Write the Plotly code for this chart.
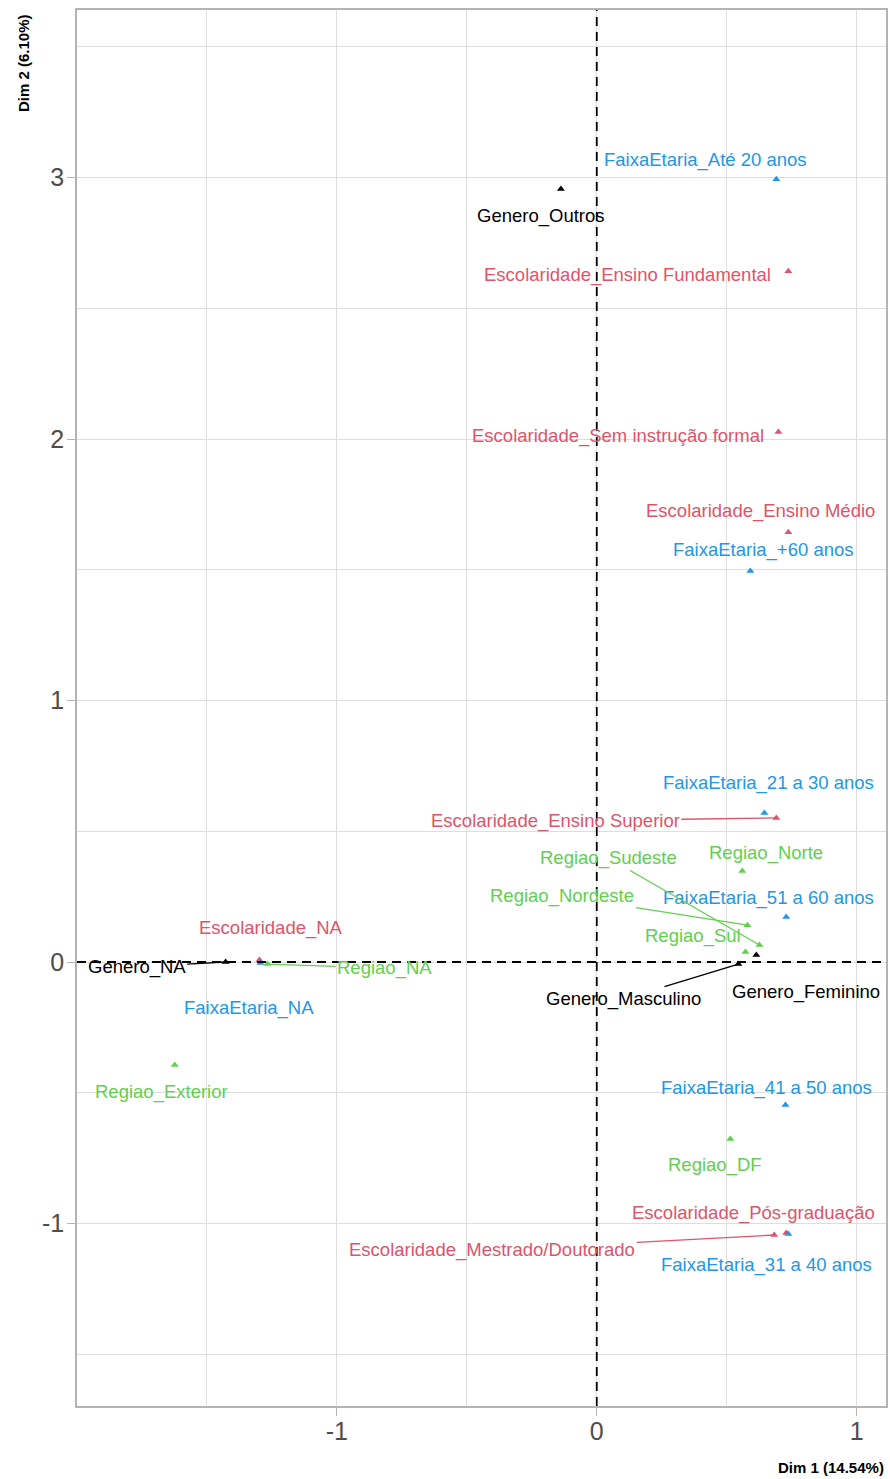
import plotly.graph_objects as go

# MCA variable categories: coordinates on Dim 1 / Dim 2
categories = [
    "FaixaEtaria_Até 20 anos", "Genero_Outros", "Escolaridade_Ensino Fundamental",
    "Escolaridade_Sem instrução formal", "Escolaridade_Ensino Médio", "FaixaEtaria_+60 anos",
    "FaixaEtaria_21 a 30 anos", "Escolaridade_Ensino Superior", "Regiao_Norte",
    "FaixaEtaria_51 a 60 anos", "Regiao_Sudeste", "Regiao_Nordeste",
    "Genero_Masculino", "Genero_Feminino", "Regiao_Sul",
    "Genero_NA", "Escolaridade_NA", "FaixaEtaria_NA", "Regiao_NA",
    "Regiao_Exterior", "FaixaEtaria_41 a 50 anos", "Regiao_DF",
    "Escolaridade_Pós-graduação", "Escolaridade_Mestrado/Doutorado", "FaixaEtaria_31 a 40 anos",
]
groups = [
    "FaixaEtaria", "Genero", "Escolaridade",
    "Escolaridade", "Escolaridade", "FaixaEtaria",
    "FaixaEtaria", "Escolaridade", "Regiao",
    "FaixaEtaria", "Regiao", "Regiao",
    "Genero", "Genero", "Regiao",
    "Genero", "Escolaridade", "FaixaEtaria", "Regiao",
    "Regiao", "FaixaEtaria", "Regiao",
    "Escolaridade", "Escolaridade", "FaixaEtaria",
]
dim1 = [
    0.691, -0.138, 0.737,
    0.699, 0.737, 0.591,
    0.645, 0.691, 0.560,
    0.729, 0.626, 0.580,
    0.545, 0.614, 0.572,
    -1.428, -1.298, -1.294, -1.267,
    -1.624, 0.726, 0.514,
    0.729, 0.683, 0.737,
]
dim2 = [
    2.994, 2.956, 2.642,
    2.027, 1.644, 1.495,
    0.570, 0.551, 0.348,
    0.172, 0.065, 0.141,
    -0.008, 0.027, 0.038,
    0.000, 0.008, -0.004, -0.008,
    -0.394, -0.547, -0.677,
    -1.036, -1.044, -1.040,
]

# repelled label placement (pixel offsets from each point) and connector flags
label_dx = [-71, -20, -161, -160, -28, 13, 4, -221, 24, -18, -151, -185, -115, 50, -52,
            -89, 12, -11, 117, -13, -19, -15, -33, -282, -22]
label_dy = [-19, 27, 4, 4, -21, -21, -30, 3, -18, -19, -87, -29, 35, 37, -16,
            5, -32, 45, 4, 27, -17, 26, -20, 15, 31]
connector = [False, False, False, False, False, False, False, True, False, False, True, True, True, False, False,
             True, False, False, True, False, False, False, False, True, False]

palette = {"Genero": "#000000", "Escolaridade": "#DF536B", "Regiao": "#61D04F", "FaixaEtaria": "#2297E6"}
group_order = ["Genero", "Escolaridade", "Regiao", "FaixaEtaria"]

x_ticks = [-1, 0, 1]
x_tick_text = ["-1", "0", "1"]
y_ticks = [-1, 0, 1, 2, 3]
y_tick_text = ["-1", "0", "1", "2", "3"]

fig = go.Figure()

for g in group_order:
    idx = [i for i, gg in enumerate(groups) if gg == g]
    fig.add_trace(go.Scatter(
        x=[dim1[i] for i in idx], y=[dim2[i] for i in idx],
        mode="markers",
        marker=dict(symbol="triangle-up", size=7, color=palette[g]),
        showlegend=False, hoverinfo="skip",
    ))

# zero reference lines
fig.add_hline(y=0, line=dict(color="black", width=1.8, dash="9px,6px"))
fig.add_vline(x=0, line=dict(color="black", width=1.8, dash="9px,6px"))

for i, name in enumerate(categories):
    col = palette[groups[i]]
    fig.add_annotation(
        x=dim1[i], y=dim2[i], xref="x", yref="y",
        text=name, showarrow=True,
        ax=label_dx[i], ay=label_dy[i], axref="pixel", ayref="pixel",
        arrowhead=0, arrowwidth=1.3,
        arrowcolor=col if connector[i] else "rgba(0,0,0,0)",
        standoff=0, startstandoff=0,
        font=dict(family="Liberation Sans, Arial, sans-serif", size=18.5, color=col),
    )

# axis titles
fig.add_annotation(
    x=1, y=0, xref="paper", yref="paper", xanchor="right", yanchor="middle",
    yshift=-61, showarrow=False, text="<b>Dim 1 (14.54%)</b>",
    font=dict(family="Liberation Sans, Arial, sans-serif", size=15, color="#000000"),
)
fig.add_annotation(
    x=0, y=1, xref="paper", yref="paper", xanchor="center", yanchor="top",
    xshift=-54, yshift=-2, showarrow=False, textangle=-90, text="<b>Dim 2 (6.10%)</b>",
    font=dict(family="Liberation Sans, Arial, sans-serif", size=15, color="#000000"),
)

grid = "#dedede"
axis_common = dict(
    showgrid=True, gridcolor=grid, gridwidth=1.4, zeroline=False,
    showline=True, linecolor="#b3b3b3", linewidth=1.5, mirror=True,
    ticks="outside", ticklen=8, tickcolor="#b3b3b3", tickwidth=1.3,
    tickfont=dict(family="Liberation Sans, Arial, sans-serif", size=25, color="#4d4d4d"),
    minor=dict(dtick=0.5, tick0=0, showgrid=True, gridcolor=grid, gridwidth=1.4, ticks=""),
)

fig.update_layout(
    width=890, height=1479,
    margin=dict(l=77, r=2, t=10, b=73),
    paper_bgcolor="white", plot_bgcolor="white",
    xaxis=dict(range=[-2.0, 1.113], tickvals=x_ticks, ticktext=x_tick_text,
               ticklabelstandoff=-6, **axis_common),
    yaxis=dict(range=[-1.698, 3.641], tickvals=y_ticks, ticktext=y_tick_text,
               ticklabelstandoff=-2, **axis_common),
)

fig.write_html("out.html")
